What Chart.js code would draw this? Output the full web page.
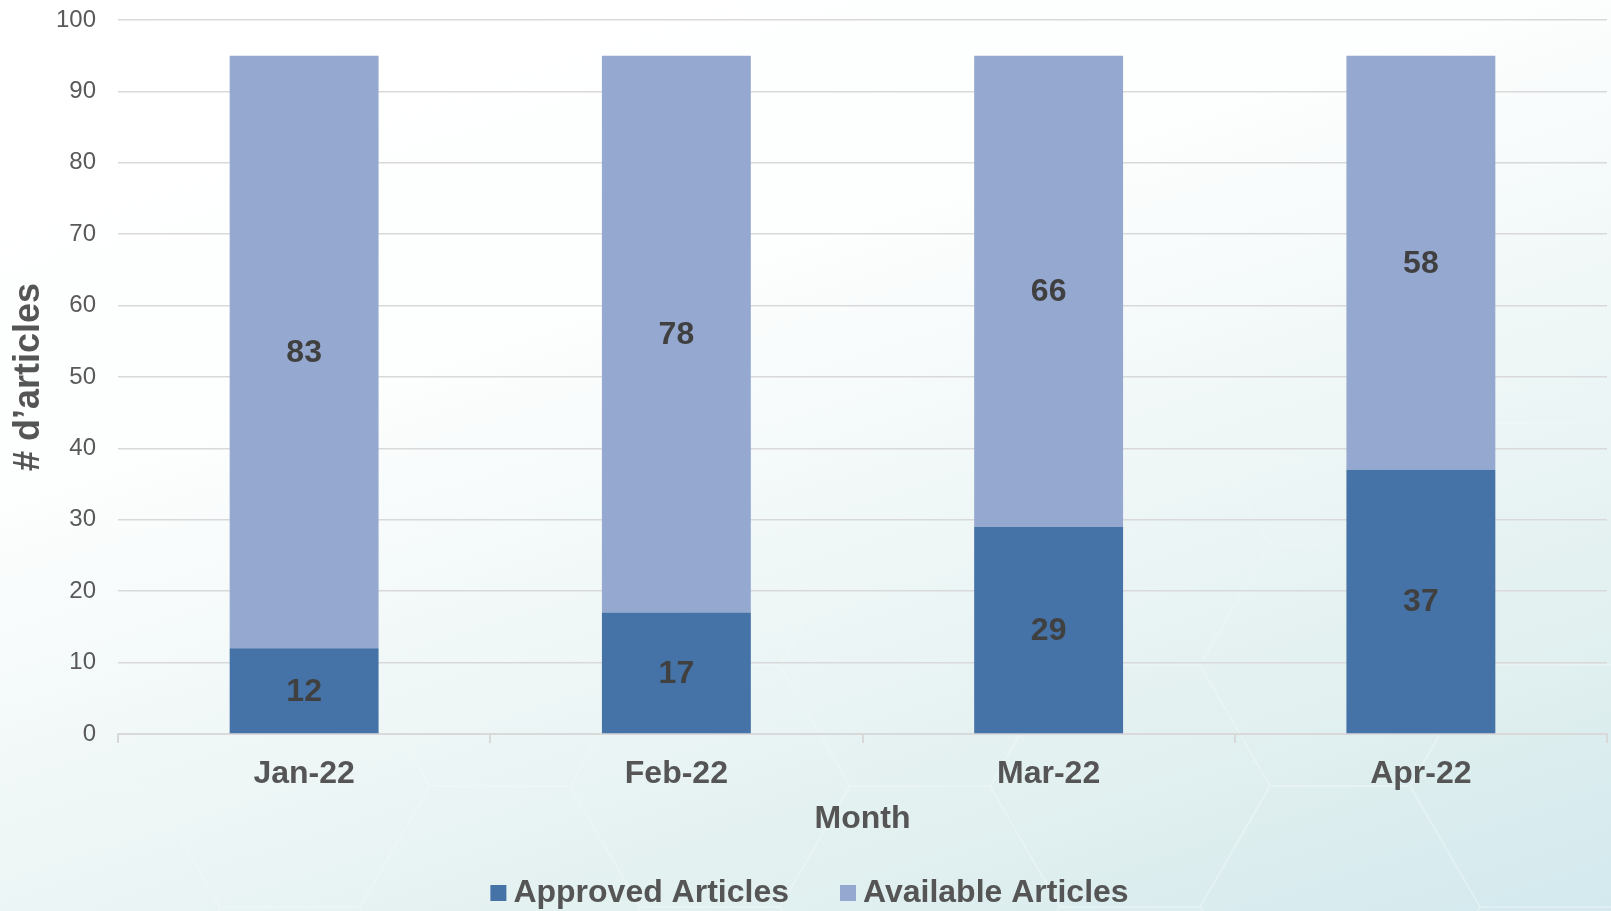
<!DOCTYPE html>
<html>
<head>
<meta charset="utf-8">
<script src="https://cdn.jsdelivr.net/npm/chart.js@4/dist/chart.umd.min.js"></script>
<style>
  html, body { margin: 0; padding: 0; }
  body {
    width: 1611px; height: 911px; overflow: hidden; position: relative;
    background: linear-gradient(162deg, #ffffff 0%, #fdfefe 35%, #eef6f6 60%, #e0efef 82%, #d3e9ee 100%);
  }
  #hex {
    position: absolute; left: 0; top: 0; width: 1611px; height: 911px;
    background-image: url("data:image/svg+xml,%3Csvg xmlns='http://www.w3.org/2000/svg' width='420' height='242' viewBox='0 0 420 242'%3E%3Cpath d='M0 121 L70 0 L210 0 L280 121 L210 242 L70 242 Z M280 121 L420 121' fill='none' stroke='%23ffffff' stroke-width='2' stroke-opacity='0.35'/%3E%3C/svg%3E");
    background-position: -60px 60px;
    -webkit-mask-image: linear-gradient(165deg, transparent 45%, rgba(0,0,0,0.8) 85%);
    mask-image: linear-gradient(165deg, transparent 45%, rgba(0,0,0,0.8) 85%);
  }
  #wrap { position: absolute; left: 0; top: 0; width: 1611px; height: 911px; }
</style>
</head>
<body>
<div id="hex"></div>
<div id="wrap"><canvas id="c" width="1611" height="911"></canvas></div>
<script>
const categories = ["Jan-22", "Feb-22", "Mar-22", "Apr-22"];
const approvedArticles = [12, 17, 29, 37];
const availableArticles = [83, 78, 66, 58];
const yTicks = [0, 10, 20, 30, 40, 50, 60, 70, 80, 90, 100];
const seriesNames = ["Approved Articles", "Available Articles"];
const seriesColors = ['#4572A7', '#95A9D0'];

const FONT = "'Liberation Sans', Arial, sans-serif";
const TEXT = '#555555';

const dataLabels = {
  id: 'dataLabels',
  afterDatasetsDraw(chart) {
    const ctx = chart.ctx;
    ctx.save();
    ctx.font = "bold 32px " + FONT;
    ctx.fillStyle = "#404040";
    ctx.textAlign = "center";
    ctx.textBaseline = "middle";
    chart.data.datasets.forEach((ds, di) => {
      const meta = chart.getDatasetMeta(di);
      meta.data.forEach((bar, i) => {
        const p = bar.getProps(['x', 'y', 'base'], true);
        ctx.fillText(String(ds.data[i]), p.x, (p.y + p.base) / 2 + 1);
      });
    });
    ctx.restore();
  }
};

// compact legend (small gap between swatch and text, as in the reference)
const bottomLegend = {
  id: 'bottomLegend',
  afterDraw(chart) {
    const ctx = chart.ctx;
    ctx.save();
    ctx.font = "bold 32px " + FONT;
    ctx.textBaseline = "middle";
    ctx.textAlign = "left";
    const box = 16, gap = 7, itemGap = 51;
    const items = chart.data.datasets.map(ds => ({ text: ds.label, color: ds.backgroundColor }));
    const widths = items.map(it => box + gap + ctx.measureText(it.text).width);
    const total = widths.reduce((a, b) => a + b, 0) + itemGap * (items.length - 1);
    const cx = chart.width / 2 + 4;
    let x = cx - total / 2;
    const y = 893;
    items.forEach((it, i) => {
      ctx.fillStyle = it.color;
      ctx.fillRect(x, y - box / 2, box, box);
      ctx.fillStyle = TEXT;
      ctx.fillText(it.text, x + box + gap, y);
      x += widths[i] + itemGap;
    });
    ctx.restore();
  }
};

new Chart(document.getElementById('c'), {
  type: 'bar',
  data: {
    labels: categories,
    datasets: [
      { label: seriesNames[0], data: approvedArticles, backgroundColor: seriesColors[0], borderWidth: 0 },
      { label: seriesNames[1], data: availableArticles, backgroundColor: seriesColors[1], borderWidth: 0 }
    ]
  },
  options: {
    responsive: false,
    animation: false,
    devicePixelRatio: 1,
    layout: { padding: { top: 20, right: 4, left: 0, bottom: 73 } },
    datasets: { bar: { categoryPercentage: 1.0, barPercentage: 0.4 } },
    plugins: {
      legend: { display: false },
      tooltip: { enabled: false }
    },
    scales: {
      x: {
        stacked: true,
        afterFit(scale) { scale.height = 104; scale.paddingLeft = 0; scale.paddingRight = 0; },
        grid: { drawOnChartArea: false, drawTicks: true, tickLength: 9, color: '#D9D9D9', lineWidth: 2, offset: true },
        border: { display: true, color: '#D9D9D9', width: 2 },
        ticks: { font: { family: FONT, size: 32, weight: 'bold' }, color: TEXT, padding: 12 },
        title: { display: true, text: 'Month', font: { family: FONT, size: 32, weight: 'bold' }, color: TEXT, padding: { top: 0, bottom: 0 } }
      },
      y: {
        stacked: true,
        min: 0, max: 100,
        afterBuildTicks(scale) { scale.ticks = yTicks.map(v => ({ value: v })); },
        afterFit(scale) { scale.width = 118; scale.paddingTop = 0; scale.paddingBottom = 0; },
        grid: { drawTicks: false, color: '#D9D9D9', lineWidth: 1.5 },
        border: { display: false },
        ticks: { font: { family: FONT, size: 24 }, color: '#595959', padding: 22 },
        title: { display: true, text: '# d’articles', font: { family: FONT, size: 36, weight: 'bold' }, color: TEXT, padding: { top: 7, bottom: 0 } }
      }
    }
  },
  plugins: [dataLabels, bottomLegend]
});
</script>
</body>
</html>
